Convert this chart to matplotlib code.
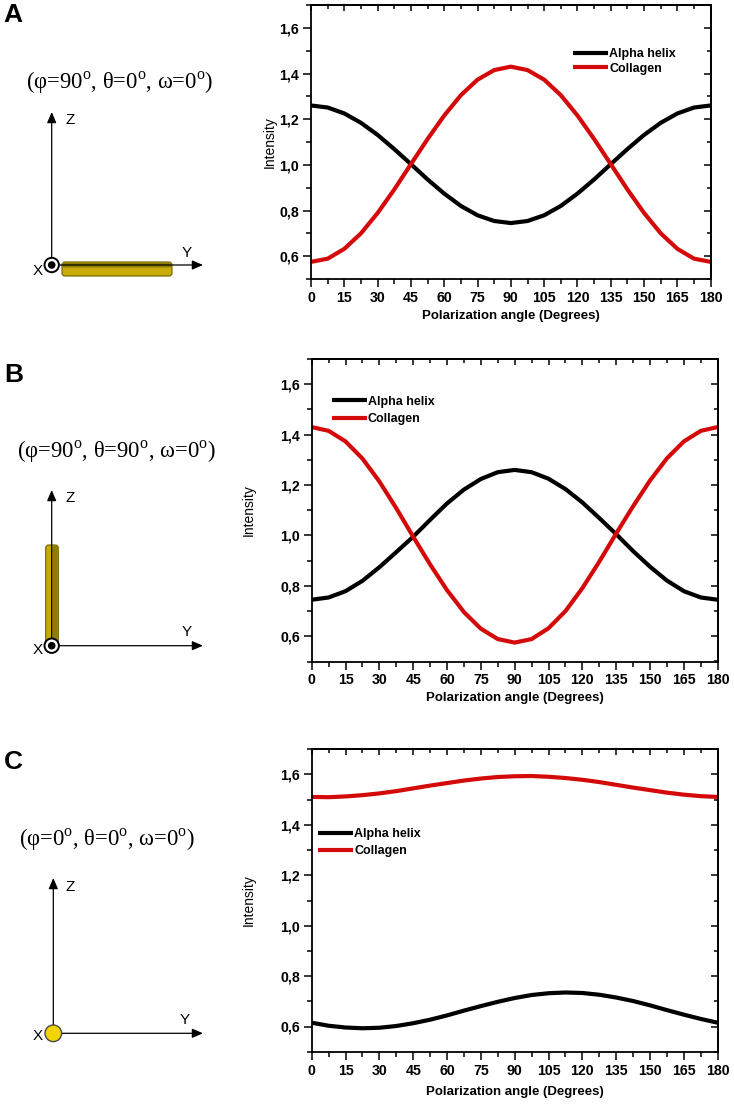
"""Polarization-resolved intensity for alpha helix vs collagen, three orientations."""

import matplotlib

matplotlib.use("Agg")
import matplotlib.pyplot as plt
import numpy as np
from matplotlib.patches import Circle, FancyBboxPatch
from matplotlib.ticker import FuncFormatter, MultipleLocator

plt.rcParams["font.family"] = ["Liberation Sans", "DejaVu Sans"]
plt.rcParams["mathtext.fontset"] = "custom"
plt.rcParams["mathtext.rm"] = "Liberation Serif"

# ---- data ----
angle_deg = np.arange(0, 180.1, 7.5)

alpha_A = [1.260, 1.251, 1.225, 1.184, 1.131, 1.069, 1.003, 0.936, 0.874, 0.820, 0.779, 0.754, 0.745,
           0.754, 0.779, 0.820, 0.874, 0.936, 1.003, 1.069, 1.131, 1.184, 1.225, 1.251, 1.260]
collagen_A = [0.575, 0.589, 0.632, 0.700, 0.789, 0.892, 1.003, 1.113, 1.216, 1.305, 1.373, 1.415, 1.430,
              1.415, 1.373, 1.305, 1.216, 1.113, 1.003, 0.892, 0.789, 0.700, 0.632, 0.589, 0.575]

alpha_B = [0.745, 0.754, 0.779, 0.820, 0.874, 0.934, 0.995, 1.062, 1.127, 1.182, 1.224, 1.251, 1.260,
           1.251, 1.225, 1.184, 1.131, 1.069, 1.005, 0.938, 0.876, 0.821, 0.779, 0.754, 0.745]
collagen_B = [1.430, 1.415, 1.373, 1.305, 1.214, 1.108, 0.995, 0.885, 0.783, 0.696, 0.630, 0.589, 0.575,
              0.589, 0.632, 0.700, 0.791, 0.896, 1.008, 1.116, 1.218, 1.306, 1.373, 1.415, 1.430]

alpha_C = [0.615, 0.603, 0.596, 0.593, 0.595, 0.602, 0.613, 0.627, 0.644, 0.663, 0.681, 0.698, 0.713,
           0.725, 0.732, 0.735, 0.733, 0.726, 0.715, 0.701, 0.684, 0.665, 0.647, 0.630, 0.615]
collagen_C = [1.511, 1.510, 1.513, 1.518, 1.525, 1.534, 1.545, 1.556, 1.566, 1.576, 1.584, 1.590, 1.593,
              1.594, 1.591, 1.586, 1.579, 1.570, 1.559, 1.548, 1.538, 1.528, 1.520, 1.514, 1.511]

series_labels = ["Alpha helix", "Collagen"]
panel_letters = ["A", "B", "C"]
euler_labels = [
    "(φ=90$^{\\mathrm{o}}$, θ=0$^{\\mathrm{o}}$, ω=0$^{\\mathrm{o}}$)",
    "(φ=90$^{\\mathrm{o}}$, θ=90$^{\\mathrm{o}}$, ω=0$^{\\mathrm{o}}$)",
    "(φ=0$^{\\mathrm{o}}$, θ=0$^{\\mathrm{o}}$, ω=0$^{\\mathrm{o}}$)",
]

# ---- layout (pixels in a 734 x 1104 canvas) ----
W, H = 734, 1104
plot_boxes = [(311, 5, 710.7, 279), (311.7, 359, 717.7, 661.5), (311.7, 749.3, 717.7, 1051.7)]
legend_anchor = [(0.655, 0.842, 0.2), (0.049, 0.879, 0.45), (0.0155, 0.740, 0.4)]
ylabel_x = [277, 256, 256]
xlabel_gap = [30.5, 30.5, 34.5]

RED = "#d40a0a"


def comma(v, _):
    return f"{v:.1f}".replace(".", ",")


def style_axes(ax):
    ax.set_xlim(0, 180)
    ax.set_ylim(0.5, 1.7)
    ax.xaxis.set_major_locator(MultipleLocator(15))
    ax.xaxis.set_minor_locator(MultipleLocator(7.5))
    ax.yaxis.set_minor_locator(MultipleLocator(0.1))
    ax.set_yticks([0.6, 0.8, 1.0, 1.2, 1.4, 1.6])
    ax.yaxis.set_major_formatter(FuncFormatter(comma))
    for s in ax.spines.values():
        s.set_linewidth(1.3)
    ax.tick_params(which="both", direction="out", width=1.1, top=False, right=False,
                   labelsize=10.2)
    ax.tick_params(which="major", length=6, pad=2.5)
    ax.tick_params(which="minor", length=3.5)
    for lab in ax.get_xticklabels() + ax.get_yticklabels():
        lab.set_fontweight("bold")

    top = ax.secondary_xaxis("top")
    top.xaxis.set_major_locator(MultipleLocator(15))
    top.xaxis.set_minor_locator(MultipleLocator(7.5))
    top.tick_params(which="both", direction="in", width=1.1, labeltop=False, labelbottom=False)
    top.tick_params(which="major", length=4)
    top.tick_params(which="minor", length=3)
    top.spines["top"].set_linewidth(1.3)

    right = ax.secondary_yaxis("right")
    right.yaxis.set_major_locator(MultipleLocator(0.2))
    right.yaxis.set_minor_locator(MultipleLocator(0.1))
    right.tick_params(which="both", direction="in", width=1.1, labelright=False, labelleft=False)
    right.tick_params(which="major", length=5)
    right.tick_params(which="minor", length=3)
    right.spines["right"].set_linewidth(1.3)


def draw_frame(ax, ox, oy, z_tip, y_tip, z_lab, y_lab, x_lab, yellow=False):
    arrow = dict(arrowstyle="-|>,head_length=0.65,head_width=0.28", lw=0.9, color="black",
                 shrinkA=0, shrinkB=0, mutation_scale=10)
    ax.annotate("", xy=(ox, z_tip), xytext=(ox, oy), arrowprops=arrow)
    ax.annotate("", xy=(y_tip, oy), xytext=(ox, oy), arrowprops=arrow)
    ax.text(*z_lab, "Z", fontsize=11, ha="center", va="center")
    ax.text(*y_lab, "Y", fontsize=11, ha="center", va="center")
    ax.text(*x_lab, "X", fontsize=11, ha="center", va="center")
    if yellow:
        ax.add_patch(Circle((ox, oy), 8.3, facecolor="#f2d400", edgecolor="#4a4a4a", lw=1.0, zorder=5))
    else:
        ax.add_patch(Circle((ox, oy), 7.2, facecolor="white", edgecolor="black", lw=1.4, zorder=5))
        ax.add_patch(Circle((ox, oy), 3.8, facecolor="black", edgecolor="none", zorder=6))


fig = plt.figure(figsize=(W / 100, H / 100), dpi=100)

# overlay for the orientation sketches, 1 unit = 1 px
sk = fig.add_axes([0, 0, 1, 1])
sk.set_xlim(0, W)
sk.set_ylim(H, 0)
sk.axis("off")

# panel letters and Euler angles
for letter, (lx, ly) in zip(panel_letters, [(3, 15), (4, 375), (4, 762)]):
    sk.text(lx, ly, letter, fontsize=19, fontweight="bold", ha="left", va="center")
for text, (tx, ty) in zip(euler_labels, [(120, 83), (116.5, 451.7), (107.5, 840)]):
    sk.text(tx, ty, text, fontsize=16.3, family="Liberation Serif", ha="center", va="center")

# rods (drawn under the axes lines)
sk.add_patch(FancyBboxPatch((62, 262), 110, 14, boxstyle="round,pad=0,rounding_size=3",
                            facecolor="#c9ab08", edgecolor="#6e6000", lw=0.8, zorder=1))
sk.add_patch(FancyBboxPatch((62, 262.5), 110, 5, boxstyle="round,pad=0,rounding_size=2",
                            facecolor="#8f7e00", edgecolor="none", zorder=1))
sk.add_patch(FancyBboxPatch((45.7, 545), 12.6, 100, boxstyle="round,pad=0,rounding_size=3",
                            facecolor="#c9ab08", edgecolor="#6e6000", lw=0.8, zorder=1))
sk.add_patch(FancyBboxPatch((52.5, 545.5), 5.3, 99, boxstyle="round,pad=0,rounding_size=2",
                            facecolor="#8f7e00", edgecolor="none", zorder=1))

draw_frame(sk, 51.7, 265, 112, 203, (70, 120), (187, 253), (38, 271))
draw_frame(sk, 51.7, 645.7, 490, 203, (70, 498), (187, 632), (38, 650))
draw_frame(sk, 53.3, 1033.3, 878, 203, (70, 887), (185, 1020), (38, 1036), yellow=True)

curves = [(alpha_A, collagen_A), (alpha_B, collagen_B), (alpha_C, collagen_C)]
for i, (box, (alpha, collagen)) in enumerate(zip(plot_boxes, curves)):
    x0, y0, x1, y1 = box
    ax = fig.add_axes([x0 / W, 1 - y1 / H, (x1 - x0) / W, (y1 - y0) / H])
    ax.plot(angle_deg, alpha, color="black", lw=3, label=series_labels[0],
            solid_capstyle="butt", solid_joinstyle="round")
    ax.plot(angle_deg, collagen, color=RED, lw=3, label=series_labels[1],
            solid_capstyle="butt", solid_joinstyle="round")
    style_axes(ax)

    lx, ly, spacing = legend_anchor[i]
    ax.legend(loc="upper left", bbox_to_anchor=(lx, ly), frameon=False,
              prop={"weight": "bold", "size": 9}, handlelength=2.8, handletextpad=0.1,
              labelspacing=spacing, borderpad=0, borderaxespad=0)

    ax.set_ylabel("Intensity", fontsize=10)
    ax.yaxis.set_label_coords((ylabel_x[i] - x0) / (x1 - x0), 0.5)
    ax.set_xlabel("Polarization angle (Degrees)", fontsize=9.5, fontweight="bold")
    ax.xaxis.set_label_coords(0.5, -xlabel_gap[i] / (y1 - y0))

fig.savefig("out.png", dpi=100)
